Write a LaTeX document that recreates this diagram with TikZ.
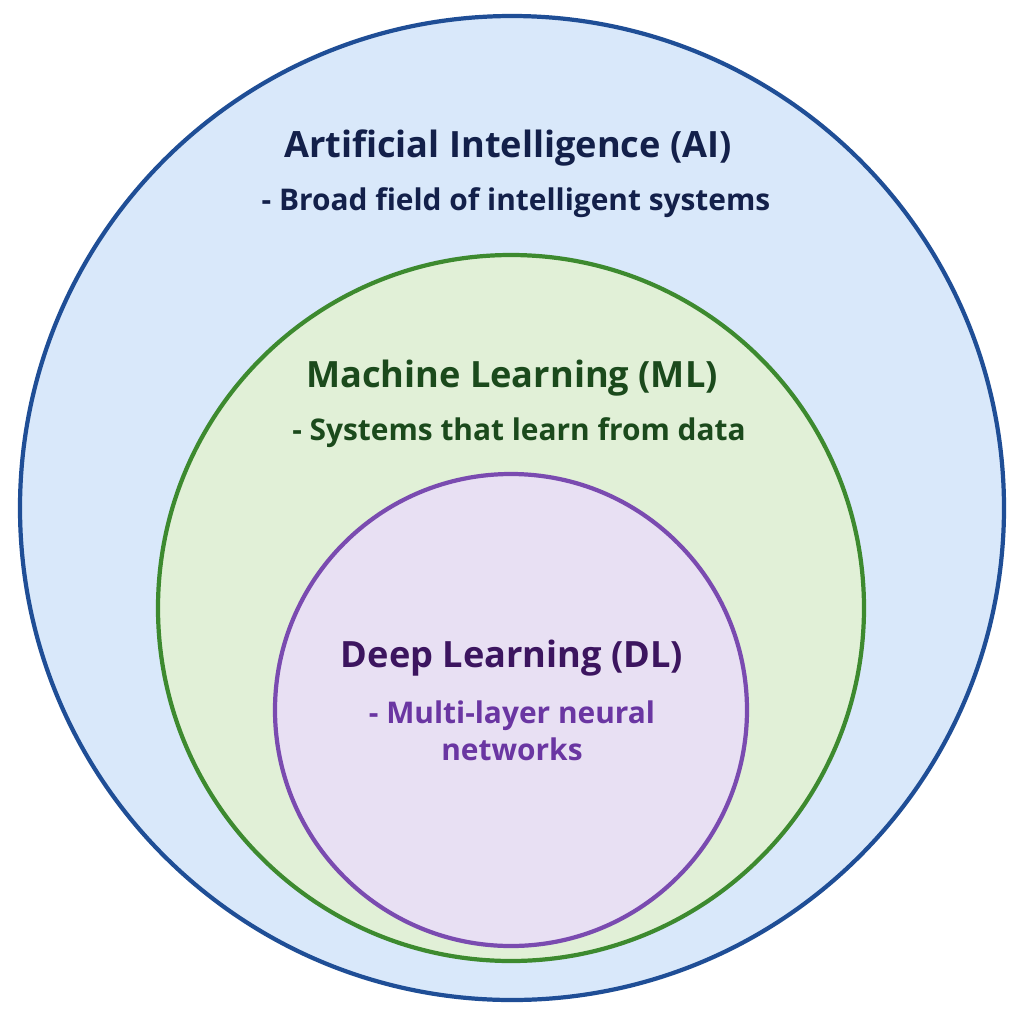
\documentclass[tikz,border=0pt]{standalone}
\usepackage{fontspec}
\setmainfont{Open Sans}
\definecolor{aifill}{HTML}{D9E8FA}
\definecolor{aidraw}{HTML}{1F4E96}
\definecolor{aitext}{HTML}{13204A}
\definecolor{mlfill}{HTML}{E1F0D7}
\definecolor{mldraw}{HTML}{3D8A2F}
\definecolor{mltext}{HTML}{1B4A1C}
\definecolor{dlfill}{HTML}{E8E0F3}
\definecolor{dldraw}{HTML}{7A4BB0}
\definecolor{dltext}{HTML}{3C155F}
\definecolor{dlsub}{HTML}{6A36A2}
\begin{document}
\begin{tikzpicture}[
set/.style={draw, circle, line width=1.2pt, inner sep=0pt},
title/.style={font=\bfseries\fontsize{10.3}{12}\selectfont, align=center},
desc/.style={font=\bfseries\fontsize{8.5}{10.5}\selectfont, align=center}
]
\useasboundingbox (0,0) rectangle (10.24,-10.24);
\node[set, fill=aifill, draw=aidraw, minimum size=9.84cm] (ai) at (5.12,-5.08) {};
\node[set, fill=mlfill, draw=mldraw, minimum size=7.06cm] (ml) at (5.11,-6.08) {};
\node[set, fill=dlfill, draw=dldraw, minimum size=4.72cm] (dl) at (5.11,-7.10) {};
\node[title, text=aitext] (aititle) at (5.08,-1.48) {Artificial Intelligence (AI)};
\node[desc, text=aitext] (aidesc) at (5.16,-2.03) {- Broad field of intelligent systems};
\node[title, text=mltext] (mltitle) at (5.12,-3.78) {Machine Learning (ML)};
\node[desc, text=mltext] (mldesc) at (5.19,-4.33) {- Systems that learn from data};
\node[title, text=dltext] (dltitle) at (5.12,-6.58) {Deep Learning (DL)};
\node[desc, text=dlsub] (dldesc) at (5.12,-7.31) {- Multi-layer neural\\networks};
\end{tikzpicture}
\end{document}
